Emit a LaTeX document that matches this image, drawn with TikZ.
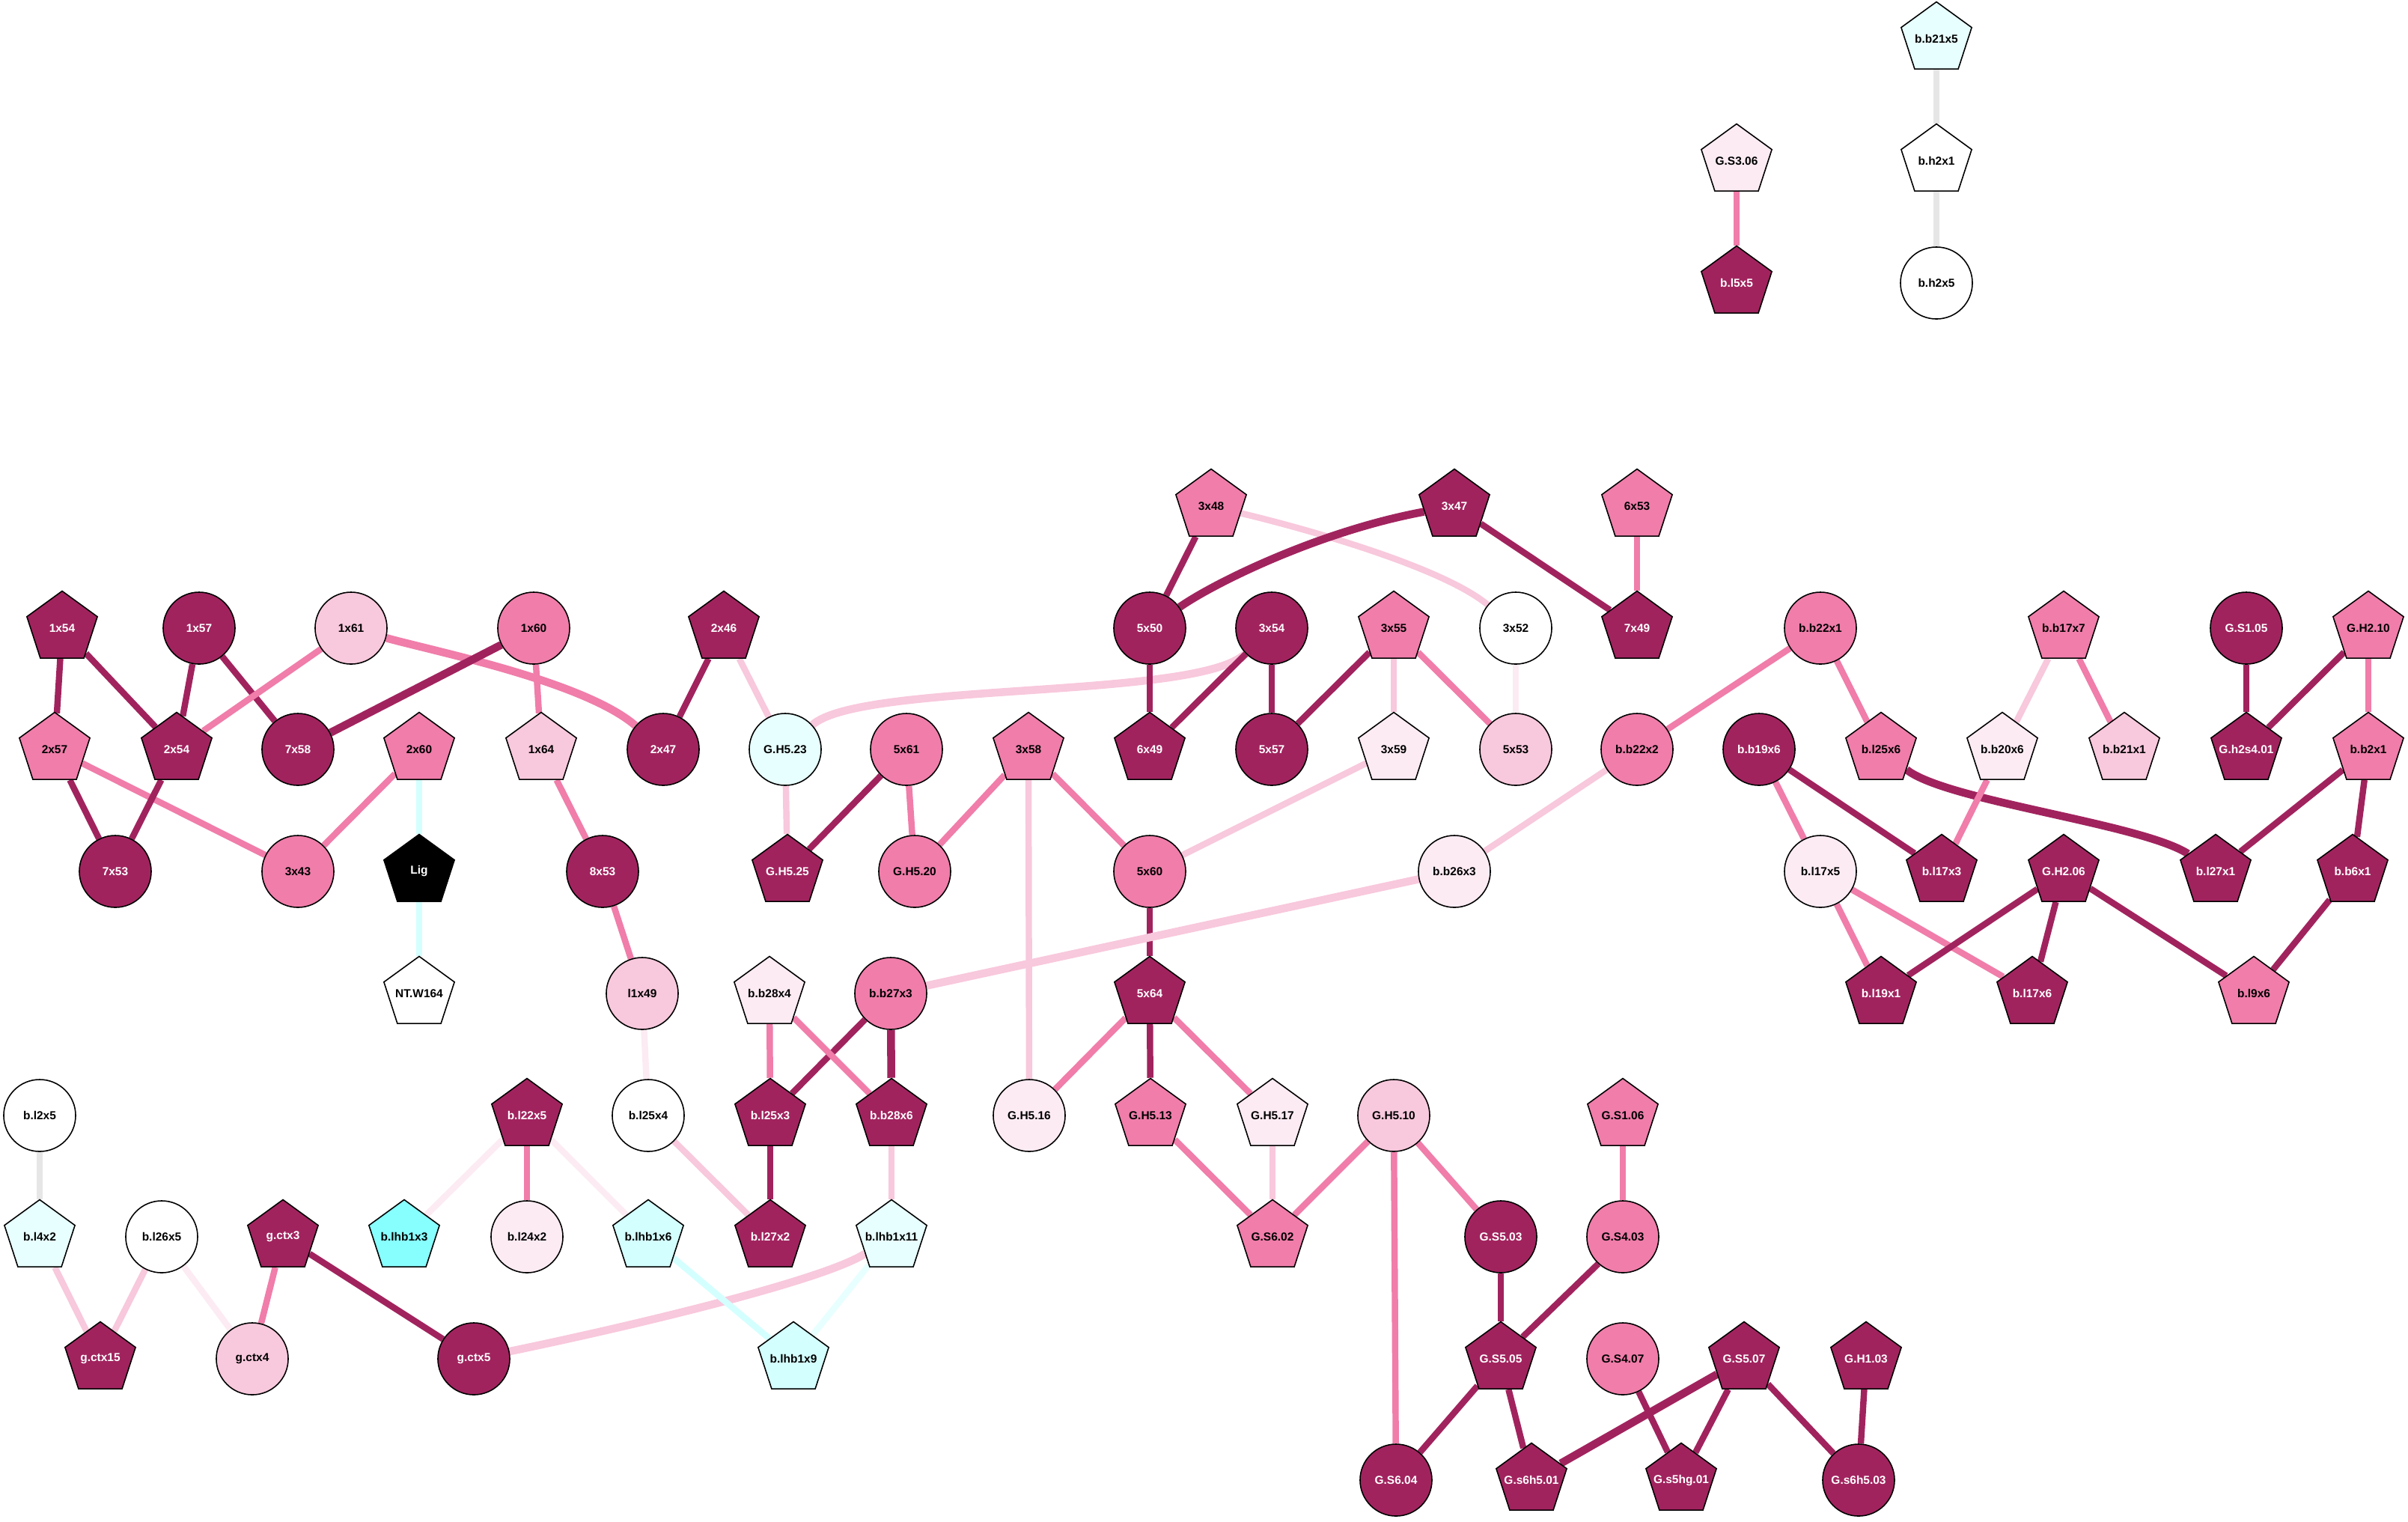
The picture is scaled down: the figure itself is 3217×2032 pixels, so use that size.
\documentclass[tikz,border=0pt]{standalone}
\usepackage{fontspec}
\setmainfont{Liberation Sans}
\usetikzlibrary{shapes.geometric,backgrounds}
\definecolor{cD}{HTML}{A1235E}
\definecolor{cM}{HTML}{F07DAA}
\definecolor{cL}{HTML}{F8C8DC}
\definecolor{cV}{HTML}{FCEBF3}
\definecolor{cCa}{HTML}{E8FFFF}
\definecolor{cCb}{HTML}{D4FFFF}
\definecolor{cCy}{HTML}{88FFFF}
\definecolor{cG}{HTML}{E6E6E6}
\newcommand\zw[1]{\makebox[0pt]{#1}}
\begin{document}
\begin{tikzpicture}[x=0.01cm,y=-0.01cm,
 base/.style={draw=black,line width=0.45pt,inner sep=0pt,font=\fontsize{4.4}{5}\selectfont\bfseries},
 cir/.style={base,circle,minimum size=0.96cm},
 pen/.style={base,regular polygon,regular polygon sides=5,minimum size=0.99cm},
 fD/.style={fill=cD,text=white},
 fM/.style={fill=cM},
 fL/.style={fill=cL},
 fV/.style={fill=cV},
 fW/.style={fill=white},
 fCa/.style={fill=cCa},
 fCb/.style={fill=cCb},
 fCy/.style={fill=cCy},
 fK/.style={fill=black,text=white},
 eD/.style={draw=cD,line width=2.4pt},
 eM/.style={draw=cM,line width=2.4pt},
 eL/.style={draw=cL,line width=2.4pt},
 eV/.style={draw=cV,line width=2.4pt},
 eCa/.style={draw=cCa,line width=2.4pt},
 eCb/.style={draw=cCb,line width=2.4pt},
 eG/.style={draw=cG,line width=2.4pt},
 heavy/.style={line width=3pt}]
\useasboundingbox (0,0) rectangle (3217,2032);
% top
\node[pen,fCa] (bb21x5) at (2587,52) {\zw{b.b21x5}};
\node[pen,fW] (bh2x1) at (2587,215) {\zw{b.h2x1}};
\node[cir,fW] (bh2x5) at (2587,378) {b.h2x5};
\node[pen,fV] (GS306) at (2320,215) {\zw{G.S3.06}};
\node[pen,fD] (bl5x5) at (2320,378) {\zw{b.l5x5}};
% row 676
\node[pen,fM] (n3x48) at (1618,676) {\zw{3x48}};
\node[pen,fD] (n3x47) at (1943,676) {\zw{3x47}};
\node[pen,fM] (n6x53) at (2187,676) {\zw{6x53}};
% row 839
\node[pen,fD] (n1x54) at (83,839) {\zw{1x54}};
\node[cir,fD] (n1x57) at (266,839) {1x57};
\node[cir,fL] (n1x61) at (469,839) {1x61};
\node[cir,fM] (n1x60) at (713,839) {1x60};
\node[pen,fD] (n2x46) at (967,839) {\zw{2x46}};
\node[cir,fD] (n5x50) at (1536,839) {5x50};
\node[cir,fD] (n3x54) at (1699,839) {3x54};
\node[pen,fM] (n3x55) at (1862,839) {\zw{3x55}};
\node[cir,fW] (n3x52) at (2025,839) {3x52};
\node[pen,fD] (n7x49) at (2187,839) {\zw{7x49}};
\node[cir,fM] (bb22x1) at (2432,839) {b.b22x1};
\node[pen,fM] (bb17x7) at (2757,839) {\zw{b.b17x7}};
\node[cir,fD] (GS105) at (3001,839) {G.S1.05};
\node[pen,fM] (GH210) at (3164,839) {\zw{G.H2.10}};
% row 1001
\node[pen,fM] (n2x57) at (73,1001) {\zw{2x57}};
\node[pen,fD] (n2x54) at (236,1001) {\zw{2x54}};
\node[cir,fD] (n7x58) at (398,1001) {7x58};
\node[pen,fM] (n2x60) at (560,1001) {\zw{2x60}};
\node[pen,fL] (n1x64) at (723,1001) {\zw{1x64}};
\node[cir,fD] (n2x47) at (886,1001) {2x47};
\node[cir,fCa] (GH523) at (1049,1001) {G.H5.23};
\node[cir,fM] (n5x61) at (1211,1001) {5x61};
\node[pen,fM] (n3x58) at (1374,1001) {\zw{3x58}};
\node[pen,fD] (n6x49) at (1536,1001) {\zw{6x49}};
\node[cir,fD] (n5x57) at (1699,1001) {5x57};
\node[pen,fV] (n3x59) at (1862,1001) {\zw{3x59}};
\node[cir,fL] (n5x53) at (2025,1001) {5x53};
\node[cir,fM] (bb22x2) at (2187,1001) {b.b22x2};
\node[cir,fD] (bb19x6) at (2350,1001) {b.b19x6};
\node[pen,fM] (bl25x6) at (2513,1001) {\zw{b.l25x6}};
\node[pen,fV] (bb20x6) at (2675,1001) {\zw{b.b20x6}};
\node[pen,fL] (bb21x1) at (2838,1001) {\zw{b.b21x1}};
\node[pen,fD] (Gh2s401) at (3001,1001) {\zw{G.h2s4.01}};
\node[pen,fM] (bb2x1) at (3164,1001) {\zw{b.b2x1}};
% row 1164
\node[cir,fD] (n7x53) at (154,1164) {7x53};
\node[cir,fM] (n3x43) at (398,1164) {3x43};
\node[pen,fK] (Lig) at (560,1164) {\zw{Lig}};
\node[cir,fD] (n8x53) at (805,1164) {8x53};
\node[pen,fD] (GH525) at (1052,1164) {\zw{G.H5.25}};
\node[cir,fM] (GH520) at (1222,1164) {G.H5.20};
\node[cir,fM] (n5x60) at (1536,1164) {5x60};
\node[cir,fV] (bb26x3) at (1943,1164) {b.b26x3};
\node[cir,fV] (bl17x5) at (2432,1164) {b.l17x5};
\node[pen,fD] (bl17x3) at (2594,1164) {\zw{b.l17x3}};
\node[pen,fD] (GH206) at (2757,1164) {\zw{G.H2.06}};
\node[pen,fD] (bl27x1) at (2960,1164) {\zw{b.l27x1}};
\node[pen,fD] (bb6x1) at (3143,1164) {\zw{b.b6x1}};
% row 1327
\node[pen,fW] (NTW164) at (560,1327) {\zw{NT.W164}};
\node[cir,fL] (l1x49) at (858,1327) {l1x49};
\node[pen,fV] (bb28x4) at (1028,1327) {\zw{b.b28x4}};
\node[cir,fM] (bb27x3) at (1190,1327) {b.b27x3};
\node[pen,fD] (n5x64) at (1536,1327) {\zw{5x64}};
\node[pen,fD] (bl19x1) at (2513,1327) {\zw{b.l19x1}};
\node[pen,fD] (bl17x6) at (2715,1327) {\zw{b.l17x6}};
\node[pen,fM] (bl9x6) at (3011,1327) {\zw{b.l9x6}};
% row 1490
\node[cir,fW] (bl2x5) at (53,1490) {b.l2x5};
\node[pen,fD] (bl22x5) at (704,1490) {\zw{b.l22x5}};
\node[cir,fW] (bl25x4) at (866,1490) {b.l25x4};
\node[pen,fD] (bl25x3) at (1029,1490) {\zw{b.l25x3}};
\node[pen,fD] (bb28x6) at (1191,1490) {\zw{b.b28x6}};
\node[cir,fV] (GH516) at (1375,1490) {G.H5.16};
\node[pen,fM] (GH513) at (1537,1490) {\zw{G.H5.13}};
\node[pen,fV] (GH517) at (1700,1490) {\zw{G.H5.17}};
\node[cir,fL] (GH510) at (1862,1490) {G.H5.10};
\node[pen,fM] (GS106) at (2168,1490) {\zw{G.S1.06}};
% row 1652
\node[pen,fCa] (bl4x2) at (53,1652) {\zw{b.l4x2}};
\node[cir,fW] (bl26x5) at (216,1652) {b.l26x5};
\node[pen,fD] (gctx3) at (378,1652) {\zw{g.ctx3}};
\node[pen,fCy] (blhb1x3) at (540,1652) {\zw{b.lhb1x3}};
\node[cir,fV] (bl24x2) at (704,1652) {b.l24x2};
\node[pen,fCb] (blhb1x6) at (866,1652) {\zw{b.lhb1x6}};
\node[pen,fD] (bl27x2) at (1029,1652) {\zw{b.l27x2}};
\node[pen,fCa] (blhb1x11) at (1191,1652) {\zw{b.lhb1x11}};
\node[pen,fM] (GS602) at (1700,1652) {\zw{G.S6.02}};
\node[cir,fD] (GS503) at (2005,1652) {G.S5.03};
\node[cir,fM] (GS403) at (2168,1652) {G.S4.03};
% row 1815
\node[pen,fD] (gctx15) at (134,1815) {\zw{g.ctx15}};
\node[cir,fL] (gctx4) at (337,1815) {g.ctx4};
\node[cir,fD] (gctx5) at (633,1815) {g.ctx5};
\node[pen,fCb] (blhb1x9) at (1060,1815) {\zw{b.lhb1x9}};
\node[pen,fD] (GS505) at (2005,1815) {\zw{G.S5.05}};
\node[cir,fM] (GS407) at (2168,1815) {G.S4.07};
\node[pen,fD] (GS507) at (2330,1815) {\zw{G.S5.07}};
\node[pen,fD] (GH103) at (2493,1815) {\zw{G.H1.03}};
% row 1977
\node[cir,fD] (GS604) at (1865,1977) {G.S6.04};
\node[pen,fD] (Gs6h501) at (2046,1977) {\zw{G.s6h5.01}};
\node[pen,fD] (Gs5hg01) at (2246,1977) {\zw{G.s5hg.01}};
\node[cir,fD] (Gs6h503) at (2483,1977) {G.s6h5.03};

\begin{pgfonlayer}{background}
\draw[eG] (bb21x5) -- (bh2x1);
\draw[eG] (bh2x1) -- (bh2x5);
\draw[eM] (GS306) -- (bl5x5);
\draw[eD] (n1x54) -- (n2x57);
\draw[eD] (n1x54) -- (n2x54);
\draw[eD] (n1x57) -- (n2x54);
\draw[eD] (n1x57) -- (n7x58);
\draw[eM] (n1x61) -- (n2x54);
\draw[eM,heavy] (n1x61) .. controls (580,870) and (780,910) .. (n2x47);
\draw[eD,heavy] (n1x60) -- (n7x58);
\draw[eM] (n1x60) -- (n1x64);
\draw[eD] (n2x46) -- (n2x47);
\draw[eL] (n2x46) -- (GH523);
\draw[eD] (n2x57) -- (n7x53);
\draw[eM] (n2x57) -- (n3x43);
\draw[eD] (n2x54) -- (n7x53);
\draw[eM] (n2x60) -- (n3x43);
\draw[eCb] (n2x60) -- (Lig);
\draw[eCb] (Lig) -- (NTW164);
\draw[eM] (n1x64) -- (n8x53);
\draw[eM] (n8x53) -- (l1x49);
\draw[eV] (l1x49) -- (bl25x4);
\draw[eL] (bl25x4) -- (bl27x2);
\draw[eL,heavy] (GH523) .. controls (1150,910) and (1600,935) .. (n3x54);
\draw[eL] (GH523) -- (GH525);
\draw[eD] (n5x61) -- (GH525);
\draw[eM] (n5x61) -- (GH520);
\draw[eM] (n3x58) -- (GH520);
\draw[eM] (n3x58) -- (n5x60);
\draw[eL] (n3x58) -- (GH516);
\draw[eD] (n3x48) -- (n5x50);
\draw[eL] (n3x48) .. controls (1760,710) and (1930,760) .. (n3x52);
\draw[eD,heavy] (n3x47) .. controls (1760,710) and (1620,780) .. (n5x50);
\draw[eD] (n3x47) -- (n7x49);
\draw[eM] (n6x53) -- (n7x49);
\draw[eD] (n5x50) -- (n6x49);
\draw[eD] (n3x54) -- (n6x49);
\draw[eD] (n3x54) -- (n5x57);
\draw[eD] (n3x55) -- (n5x57);
\draw[eL] (n3x55) -- (n3x59);
\draw[eM] (n3x55) -- (n5x53);
\draw[eV] (n3x52) -- (n5x53);
\draw[eL] (n3x59) -- (n5x60);
\draw[eD] (n5x60) -- (n5x64);
\draw[eM] (n5x64) -- (GH516);
\draw[eD] (n5x64) -- (GH513);
\draw[eM] (n5x64) -- (GH517);
\draw[eM] (GH513) -- (GS602);
\draw[eL] (GH517) -- (GS602);
\draw[eM] (GH510) -- (GS602);
\draw[eM] (GH510) -- (GS503);
\draw[eM] (GH510) -- (GS604);
\draw[eD] (GS503) -- (GS505);
\draw[eM] (GS106) -- (GS403);
\draw[eD] (GS403) -- (GS505);
\draw[eD] (GS505) -- (GS604);
\draw[eD] (GS505) -- (Gs6h501);
\draw[eD] (GS407) -- (Gs5hg01);
\draw[eD,heavy] (GS507) -- (Gs6h501);
\draw[eD] (GS507) -- (Gs5hg01);
\draw[eD] (GS507) -- (Gs6h503);
\draw[eD] (GH103) -- (Gs6h503);
\draw[eM] (bb22x1) -- (bb22x2);
\draw[eM] (bb22x1) -- (bl25x6);
\draw[eL] (bb22x2) -- (bb26x3);
\draw[eL,heavy] (bb26x3) -- (bb27x3);
\draw[eD] (bb27x3) -- (bl25x3);
\draw[eD,heavy] (bb27x3) -- (bb28x6);
\draw[eM] (bb28x4) -- (bl25x3);
\draw[eM] (bb28x4) -- (bb28x6);
\draw[eD] (bl25x3) -- (bl27x2);
\draw[eL] (bb28x6) -- (blhb1x11);
\draw[eL,heavy] (blhb1x11) .. controls (1100,1710) and (850,1770) .. (gctx5);
\draw[eCa] (blhb1x11) -- (blhb1x9);
\draw[eCb] (blhb1x6) -- (blhb1x9);
\draw[eV] (bl22x5) -- (blhb1x3);
\draw[eM] (bl22x5) -- (bl24x2);
\draw[eV] (bl22x5) -- (blhb1x6);
\draw[eG] (bl2x5) -- (bl4x2);
\draw[eL] (bl4x2) -- (gctx15);
\draw[eL] (bl26x5) -- (gctx15);
\draw[eV] (bl26x5) -- (gctx4);
\draw[eM] (gctx3) -- (gctx4);
\draw[eD] (gctx3) -- (gctx5);
\draw[eD,heavy] (bl25x6) .. controls (2600,1070) and (2860,1100) .. (bl27x1);
\draw[eM] (bb19x6) -- (bl17x5);
\draw[eD] (bb19x6) -- (bl17x3);
\draw[eM] (bb20x6) -- (bl17x3);
\draw[eL] (bb17x7) -- (bb20x6);
\draw[eM] (bb17x7) -- (bb21x1);
\draw[eD] (GS105) -- (Gh2s401);
\draw[eD] (GH210) -- (Gh2s401);
\draw[eM] (GH210) -- (bb2x1);
\draw[eD] (bb2x1) -- (bl27x1);
\draw[eD] (bb2x1) -- (bb6x1);
\draw[eD] (bb6x1) -- (bl9x6);
\draw[eM] (bl17x5) -- (bl19x1);
\draw[eM] (bl17x5) -- (bl17x6);
\draw[eD] (GH206) -- (bl19x1);
\draw[eD] (GH206) -- (bl17x6);
\draw[eD] (GH206) -- (bl9x6);
\end{pgfonlayer}
\end{tikzpicture}
\end{document}
